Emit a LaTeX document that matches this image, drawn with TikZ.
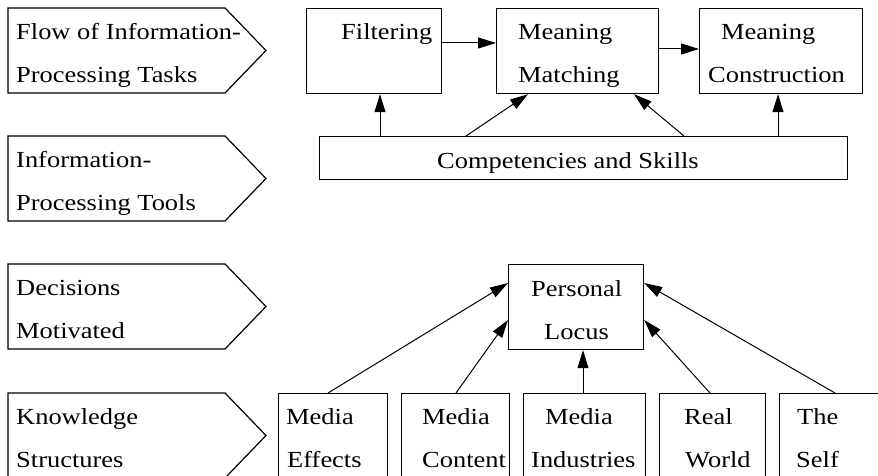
\documentclass[tikz,border=0pt]{standalone}
\usepackage{fontspec}
\setmainfont[FakeStretch=1.15]{Liberation Serif}
\usetikzlibrary{arrows.meta,calc}
\tikzset{
  box/.style={draw, line width=1.2pt, rectangle, inner sep=0pt, anchor=north west, minimum height=85pt},
  txt/.style={anchor=base west, inner sep=0pt, font=\fontsize{23}{43}\selectfont},
  arr/.style={-{Triangle[length=18pt,width=11pt]}, line width=1pt},
  chev/.style={draw, line width=1.2pt, line join=miter}
}
\begin{document}
\begin{tikzpicture}[x=1pt,y=-1pt]
\clip (0,0) rectangle (878,476);
% chevrons
\foreach \t in {8,136,264,393}{
  \draw[chev] (8,\t) -- (225,\t) -- (266,\t+42.5) -- (225,\t+85) -- (8,\t+85) -- cycle;
}
\node[txt] (c1a) at (16,39.5) {Flow of Information-};
\node[txt] (c1b) at (16,82.5) {Processing Tasks};
\node[txt] (c2a) at (16,167.5) {Information-};
\node[txt] (c2b) at (16,210.5) {Processing Tools};
\node[txt] (c3a) at (16,295.5) {Decisions};
\node[txt] (c3b) at (16,338.5) {Motivated};
\node[txt] (c4a) at (16,424.5) {Knowledge};
\node[txt] (c4b) at (16,467.5) {Structures};

% top boxes
\node[box, minimum width=135pt] (filt) at (306,8) {};
\node[box, minimum width=162pt] (mm) at (496,8) {};
\node[box, minimum width=163pt] (mc) at (699,8) {};
\node[box, minimum width=528pt, minimum height=43pt] (comp) at (319,136) {};

\node[txt] (tf) at (341,40) {Filtering};
\node[txt] (tmm1) at (518,40) {Meaning};
\node[txt] (tmm2) at (518,83) {Matching};
\node[txt] (tmc1) at (721,40) {Meaning};
\node[txt] (tmc2) at (708,83) {Construction};
\node[txt] (tcomp) at (437,168) {Competencies and Skills};

\draw[arr] ($(filt.north east)+(0,35)$) -- ($(mm.north west)+(0,35)$);
\draw[arr] ($(mm.north east)+(0,41)$) -- ($(mc.north west)+(0,41)$);
\draw[arr] ($(comp.north west)+(61,0)$) -- ($(filt.south west)+(74,0)$);
\draw[arr] ($(comp.north west)+(147,0)$) -- ($(mm.south west)+(32,0)$);
\draw[arr] ($(comp.north west)+(365,0)$) -- ($(mm.south west)+(138,0)$);
\draw[arr] ($(comp.north west)+(459,0)$) -- ($(mc.south west)+(79,0)$);

% bottom part
\node[box, minimum width=135pt] (pl) at (508,264) {};
\node[box, minimum width=109pt] (me) at (278,393) {};
\node[box, minimum width=108pt] (mcn) at (401,393) {};
\node[box, minimum width=122pt] (mi) at (523,393) {};
\node[box, minimum width=106pt] (rw) at (659,393) {};
\node[box, minimum width=110pt] (ts) at (779,393) {};

\node[txt] (tpl1) at (531,296) {Personal};
\node[txt] (tpl2) at (544,339) {Locus};
\node[txt] (tme1) at (286,424) {Media};
\node[txt] (tme2) at (287,467) {Effects};
\node[txt] (tmc1b) at (422,424) {Media};
\node[txt] (tmc2b) at (422,467) {Content};
\node[txt] (tmi1) at (545,424) {Media};
\node[txt] (tmi2) at (531,467) {Industries};
\node[txt] (trw1) at (684,424) {Real};
\node[txt] (trw2) at (685,467) {World};
\node[txt] (tts1) at (797,424) {The};
\node[txt] (tts2) at (796,467) {Self};

\draw[arr] ($(me.north west)+(50,0)$) -- ($(pl.north west)+(0,19)$);
\draw[arr] ($(mcn.north west)+(55,0)$) -- ($(pl.north west)+(0,56)$);
\draw[arr] ($(mi.north west)+(60,0)$) -- ($(pl.south west)+(75,0)$);
\draw[arr] ($(rw.north west)+(51,0)$) -- ($(pl.north east)+(0,56)$);
\draw[arr] ($(ts.north west)+(56,0)$) -- ($(pl.north east)+(0,19)$);
\end{tikzpicture}
\end{document}
